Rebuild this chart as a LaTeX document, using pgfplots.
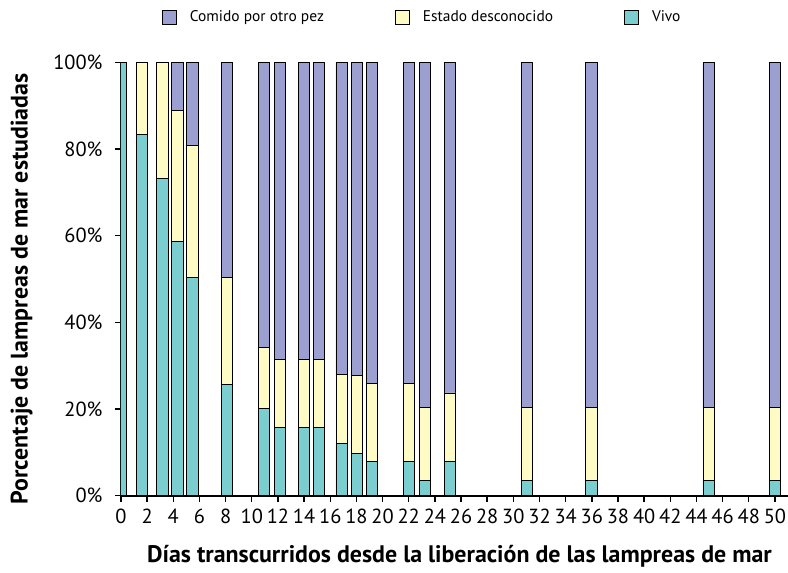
\documentclass[border=0pt]{standalone}
\usepackage{pgfplots}
\pgfplotsset{compat=1.18}
\usepackage{pgfplotstable}
\usepackage{fontspec}
\setmainfont{PT Sans}
\definecolor{comido}{RGB}{156,160,208}
\definecolor{desc}{RGB}{255,251,197}
\definecolor{vivo}{RGB}{122,206,208}
\pgfplotstableread{
x vivo desc comido
0 100 0 0
1.59 83.3 16.7 0
3.18 73.3 26.7 0
4.32 58.7 30.2 11.1
5.47 50.3 30.5 19.2
8.11 25.7 24.6 49.7
10.95 20.1 14.1 65.8
12.17 15.8 15.7 68.5
14.0 15.8 15.7 68.5
15.16 15.8 15.7 68.5
16.87 12.0 15.9 72.1
18.04 9.7 18.1 72.2
19.2 7.9 17.9 74.2
22.0 8.0 17.8 74.2
23.26 3.6 16.8 79.6
25.17 7.9 15.8 76.3
31.06 3.6 16.8 79.6
35.98 3.6 16.8 79.6
44.93 3.6 16.8 79.6
49.98 3.6 16.8 79.6
}\datatable
\begin{document}
\begin{tikzpicture}
\begin{axis}[
  scale only axis,
  width=667bp, height=433.4bp,
  xmin=0, xmax=51, ymin=0, ymax=100,
  clip=true,
  ybar stacked, bar width=0.865, bar shift=0pt,
  axis x line*=bottom, axis y line*=left,
  axis line style={line width=1.6bp, black},
  tick align=outside, major tick length=6bp,
  tick style={line width=1.4bp, black},
  xtick={0,2,...,50}, ytick={0,20,...,100},
  yticklabel={\pgfmathprintnumber{\tick}\%},
  /pgf/number format/assume math mode=true,
  ticklabel style={font=\fontsize{20.5}{24}\selectfont},
  xticklabel style={yshift=-4bp},
  yticklabel style={xshift=-9bp},
  xlabel={\textbf{Días transcurridos desde la liberación de las lampreas de mar}},
  ylabel={\textbf{Porcentaje de lampreas de mar estudiadas}},
  label style={font=\fontsize{24}{28}\selectfont},
  xlabel style={at={(axis description cs:0.5075,-0.139)}, anchor=center},
  ylabel style={at={(axis description cs:-0.149,0.477)}, anchor=center},
  every axis plot/.append style={draw=black, line width=0.9bp},
  legend columns=3, reverse legend,
  legend style={draw=none, fill=none, inner sep=0pt, outer sep=0pt,
    at={(axis description cs:0.0615,1.1045)}, anchor=west,
    font=\fontsize{15.5}{18}\selectfont,
    /tikz/every odd column/.append style={column sep=11bp},
    /tikz/every even column/.append style={column sep=69bp}},
  legend image code/.code={\draw[#1, draw=black, line width=0.9bp] (0bp,-7bp) rectangle (14bp,7bp);},
]
\addplot[fill=vivo] table[x=x,y=vivo]{\datatable};
\addplot[fill=desc] table[x=x,y=desc]{\datatable};
\addplot[fill=comido] table[x=x,y=comido]{\datatable};
\legend{Vivo, Estado desconocido, Comido por otro pez}
\end{axis}
\pgfresetboundingbox
\path[use as bounding box] (-121bp,-77.3bp) rectangle (667bp,495.7bp);
\end{tikzpicture}
\end{document}
